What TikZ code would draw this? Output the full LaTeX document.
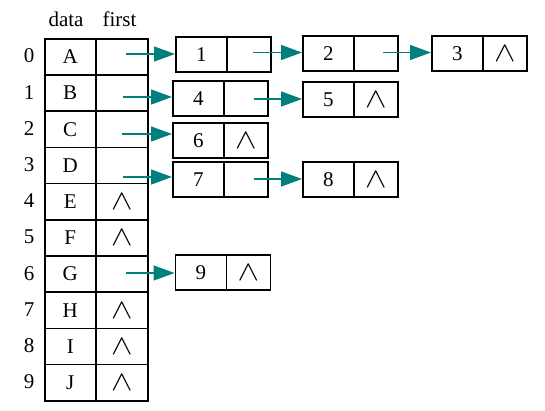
\documentclass[tikz,border=0pt]{standalone}
\usepackage{fontspec}
\usepackage{graphicx}
\setmainfont{Liberation Serif}
\usetikzlibrary{arrows.meta}
\definecolor{arrowc}{HTML}{007F7F}
\newcommand{\nilsym}{\raisebox{-4pt}{\scalebox{1.55}[1.35]{$\wedge$}}}
\begin{document}
\begin{tikzpicture}[x=1pt,y=-1pt,
  font=\fontsize{21}{24}\selectfont,
  tcell/.style={draw, line width=1.5, minimum height=36.2, inner sep=0, anchor=north west},
  dcell/.style={tcell, minimum width=51},
  fcell/.style={tcell, minimum width=52},
  vcell/.style={draw, line width=1.5, minimum width=51, minimum height=35, inner sep=0, anchor=north west},
  pcell/.style={draw, line width=1.5, minimum width=44, minimum height=35, inner sep=0, anchor=north west},
  arr/.style={draw=arrowc, line width=1.3, -{Triangle[length=21,width=15]}, arrowc},
  idx/.style={inner sep=0}
]
\useasboundingbox (0,0) rectangle (545,410);
% headers
\node (hdata) at (66,19) {data};
\node (hfirst) at (119.5,19) {first};
% table
\foreach \i/\l/\n in {0/A/0,1/B/0,2/C/0,3/D/0,4/E/1,5/F/1,6/G/0,7/H/1,8/I/1,9/J/1}{
  \pgfmathsetmacro{\yt}{38+36.2*\i}
  \node[dcell] (d\i) at (44,\yt) {\l};
  \ifnum\n=1
    \node[fcell] (f\i) at (95,\yt) {\nilsym};
  \else
    \node[fcell] (f\i) at (95,\yt) {};
  \fi
  \node[idx] (i\i) at (29,\yt+18.1) {\i};
}
% list nodes
\node[vcell] (n1v) at (175,36) {1};
\node[pcell] (n1p) at (226,36) {};
\node[vcell] (n2v) at (302,35) {2};
\node[pcell] (n2p) at (353,35) {};
\node[vcell] (n3v) at (431,35) {3};
\node[pcell] (n3p) at (482,35) {\nilsym};
\node[vcell] (n4v) at (172,80) {4};
\node[pcell] (n4p) at (223,80) {};
\node[vcell] (n5v) at (302,81) {5};
\node[pcell] (n5p) at (353,81) {\nilsym};
\node[vcell] (n6v) at (172,122) {6};
\node[pcell] (n6p) at (223,122) {\nilsym};
\node[vcell] (n7v) at (172,161) {7};
\node[pcell] (n7p) at (223,161) {};
\node[vcell] (n8v) at (302,161) {8};
\node[pcell] (n8p) at (353,161) {\nilsym};
\node[vcell] (n9v) at (174.5,254) {9};
\node[pcell] (n9p) at (225.5,254) {\nilsym};
% arrow starts
\coordinate (a0) at (126,54);
\coordinate (a1) at (123,97);
\coordinate (a2) at (122,134);
\coordinate (a3) at (123,177);
\coordinate (a6) at (126,273);
\coordinate (b1) at (253,52.5);
\coordinate (b2) at (383,52.5);
\coordinate (b4) at (254,99);
\coordinate (b7) at (254,179);
\draw[arr] (a0) -- (a0 -| n1v.west);
\draw[arr] (a1) -- (a1 -| n4v.west);
\draw[arr] (a2) -- (a2 -| n6v.west);
\draw[arr] (a3) -- (a3 -| n7v.west);
\draw[arr] (a6) -- (a6 -| n9v.west);
\draw[arr] (b1) -- (b1 -| n2v.west);
\draw[arr] (b2) -- (b2 -| n3v.west);
\draw[arr] (b4) -- (b4 -| n5v.west);
\draw[arr] (b7) -- (b7 -| n8v.west);
\end{tikzpicture}
\end{document}
